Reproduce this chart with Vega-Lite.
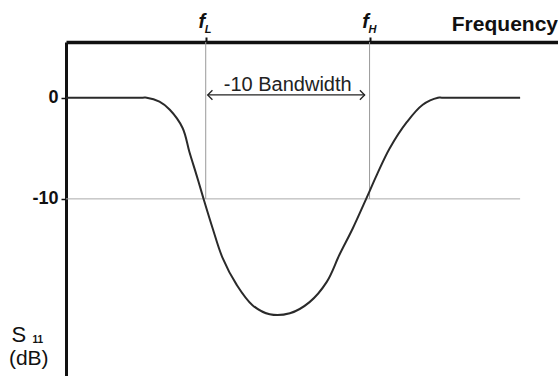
{
  "$schema": "https://vega.github.io/schema/vega-lite/v6.json",
  "width": 492,
  "height": 334,
  "autosize": {"type": "none"},
  "padding": {"left": 66, "top": 42, "right": 0, "bottom": 0},
  "background": "white",
  "config": {"view": {"stroke": null}, "font": "Liberation Sans"},
  "resolve": {"axis": {"x": "independent", "y": "independent"}},
  "datasets": {
    "curve": [
      {"f": 0, "s11": 0}, {"f": 15.6, "s11": 0}, {"f": 16.4, "s11": 0},
      {"f": 19, "s11": -0.4}, {"f": 21.1, "s11": -1.2}, {"f": 23.7, "s11": -3.0},
      {"f": 25.1, "s11": -5.4}, {"f": 26.5, "s11": -7.6}, {"f": 27.9, "s11": -9.9},
      {"f": 29.8, "s11": -12.9}, {"f": 31.8, "s11": -15.8}, {"f": 34.7, "s11": -18.5},
      {"f": 37.9, "s11": -20.5}, {"f": 41.4, "s11": -21.4}, {"f": 45.5, "s11": -21.3},
      {"f": 49.5, "s11": -20.2}, {"f": 53.0, "s11": -18.2}, {"f": 55.6, "s11": -15.5},
      {"f": 58.3, "s11": -12.9}, {"f": 61.1, "s11": -9.9}, {"f": 63.2, "s11": -7.6},
      {"f": 65.8, "s11": -5.0}, {"f": 69.3, "s11": -2.4}, {"f": 72.5, "s11": -0.7},
      {"f": 75.6, "s11": 0}, {"f": 76.4, "s11": 0}, {"f": 92.3, "s11": 0}
    ],
    "markers": [
      {"name": "f", "sub": "L", "f": 28.4},
      {"name": "f", "sub": "H", "f": 61.7}
    ],
    "threshold": [{"level": -10, "start": 0, "end": 92.3}],
    "band": [{"label": "-10 Bandwidth", "from": 28.8, "to": 60.7, "mid": 45.07, "level": 0.27}]
  },
  "layer": [
    {
      "data": {"name": "threshold"},
      "mark": {"type": "rule", "color": "#aaaaaa", "strokeWidth": 1},
      "encoding": {
        "x": {"field": "start", "type": "quantitative", "scale": {"domain": [0, 100]},
          "axis": {"orient": "top", "values": [28.4, 61.7], "labels": false, "title": null, "grid": false,
            "domainColor": "#111", "domainWidth": 3.5, "tickColor": "#111", "tickWidth": 2, "tickSize": 5}},
        "x2": {"field": "end"},
        "y": {"field": "level", "type": "quantitative", "scale": {"domain": [-27.5, 5.5]},
          "axis": {"orient": "left", "values": [0, -10], "title": null, "grid": false,
            "labelExpr": "replace(datum.label, '\u2212', '-')",
            "domainColor": "#111", "domainWidth": 3, "tickColor": "#111", "tickWidth": 1.5, "tickSize": 5,
            "labelFont": "Liberation Sans", "labelFontSize": 18, "labelFontWeight": "bold", "labelColor": "#111", "labelPadding": 3}}
      }
    },
    {
      "data": {"name": "markers"},
      "mark": {"type": "rule", "color": "#999999", "strokeWidth": 1},
      "encoding": {
        "x": {"field": "f", "type": "quantitative", "scale": {"domain": [0, 100]}, "axis": null},
        "y": {"datum": -10, "scale": {"domain": [-27.5, 5.5]}, "axis": null},
        "y2": {"datum": 5.5}
      }
    },
    {
      "data": {"name": "curve"},
      "mark": {"type": "line", "color": "#2a2a2a", "strokeWidth": 2, "interpolate": "catmull-rom"},
      "encoding": {
        "x": {"field": "f", "type": "quantitative", "scale": {"domain": [0, 100]}, "axis": null},
        "y": {"field": "s11", "type": "quantitative", "scale": {"domain": [-27.5, 5.5]}, "axis": null}
      }
    },
    {
      "data": {"name": "band"},
      "mark": {"type": "rule", "color": "#222", "strokeWidth": 1.3},
      "encoding": {
        "x": {"field": "from", "type": "quantitative", "scale": {"domain": [0, 100]}, "axis": null},
        "x2": {"field": "to"},
        "y": {"field": "level", "type": "quantitative", "scale": {"domain": [-27.5, 5.5]}, "axis": null}
      }
    },
    {
      "data": {"name": "band"},
      "mark": {"type": "point", "shape": "M1,-1L0,0L1,1", "filled": false, "size": 90, "stroke": "#222", "strokeWidth": 1.3, "opacity": 1},
      "encoding": {
        "x": {"field": "from", "type": "quantitative", "scale": {"domain": [0, 100]}, "axis": null},
        "y": {"field": "level", "type": "quantitative", "scale": {"domain": [-27.5, 5.5]}, "axis": null}
      }
    },
    {
      "data": {"name": "band"},
      "mark": {"type": "point", "shape": "M-1,-1L0,0L-1,1", "filled": false, "size": 90, "stroke": "#222", "strokeWidth": 1.3, "opacity": 1},
      "encoding": {
        "x": {"field": "to", "type": "quantitative", "scale": {"domain": [0, 100]}, "axis": null},
        "y": {"field": "level", "type": "quantitative", "scale": {"domain": [-27.5, 5.5]}, "axis": null}
      }
    },
    {
      "data": {"name": "band"},
      "mark": {"type": "text", "font": "Liberation Sans", "fontSize": 20, "color": "#222", "align": "center", "baseline": "alphabetic", "dy": -4},
      "encoding": {
        "x": {"field": "mid", "type": "quantitative", "scale": {"domain": [0, 100]}, "axis": null},
        "y": {"field": "level", "type": "quantitative", "scale": {"domain": [-27.5, 5.5]}, "axis": null},
        "text": {"field": "label"}
      }
    },
    {
      "data": {"name": "markers"},
      "mark": {"type": "text", "font": "Liberation Sans", "fontSize": 20, "fontWeight": "bold", "fontStyle": "italic", "color": "#111", "align": "center", "baseline": "alphabetic", "dx": -4},
      "encoding": {
        "x": {"field": "f", "type": "quantitative", "scale": {"domain": [0, 100]}, "axis": null},
        "y": {"datum": 6.9, "scale": {"domain": [-27.5, 5.5]}, "axis": null},
        "text": {"field": "name"}
      }
    },
    {
      "data": {"name": "markers"},
      "mark": {"type": "text", "font": "Liberation Sans", "fontSize": 11, "fontWeight": "bold", "fontStyle": "italic", "color": "#111", "align": "left", "baseline": "alphabetic", "dx": -1},
      "encoding": {
        "x": {"field": "f", "type": "quantitative", "scale": {"domain": [0, 100]}, "axis": null},
        "y": {"datum": 6.4, "scale": {"domain": [-27.5, 5.5]}, "axis": null},
        "text": {"field": "sub"}
      }
    },
    {
      "data": {"values": [{"t": "Frequency"}]},
      "mark": {"type": "text", "font": "Liberation Sans", "fontSize": 21, "fontWeight": "bold", "color": "#111", "align": "right", "baseline": "alphabetic"},
      "encoding": {
        "x": {"datum": 100, "scale": {"domain": [0, 100]}, "axis": null},
        "y": {"datum": 6.59, "scale": {"domain": [-27.5, 5.5]}, "axis": null},
        "text": {"field": "t"}
      }
    },
    {
      "data": {"values": [{"t": "S"}]},
      "mark": {"type": "text", "font": "Liberation Sans", "fontSize": 22, "color": "#111", "align": "left", "baseline": "alphabetic"},
      "encoding": {
        "x": {"datum": -11.1, "scale": {"domain": [0, 100]}, "axis": null},
        "y": {"datum": -24.14, "scale": {"domain": [-27.5, 5.5]}, "axis": null},
        "text": {"field": "t"}
      }
    },
    {
      "data": {"values": [{"t": "11"}]},
      "mark": {"type": "text", "font": "Liberation Sans", "fontSize": 10, "fontWeight": "bold", "color": "#111", "align": "left", "baseline": "alphabetic"},
      "encoding": {
        "x": {"datum": -6.8, "scale": {"domain": [0, 100]}, "axis": null},
        "y": {"datum": -24.24, "scale": {"domain": [-27.5, 5.5]}, "axis": null},
        "text": {"field": "t"}
      }
    },
    {
      "data": {"values": [{"t": "(dB)"}]},
      "mark": {"type": "text", "font": "Liberation Sans", "fontSize": 21, "color": "#111", "align": "left", "baseline": "alphabetic"},
      "encoding": {
        "x": {"datum": -11.6, "scale": {"domain": [0, 100]}, "axis": null},
        "y": {"datum": -26.4, "scale": {"domain": [-27.5, 5.5]}, "axis": null},
        "text": {"field": "t"}
      }
    }
  ]
}
